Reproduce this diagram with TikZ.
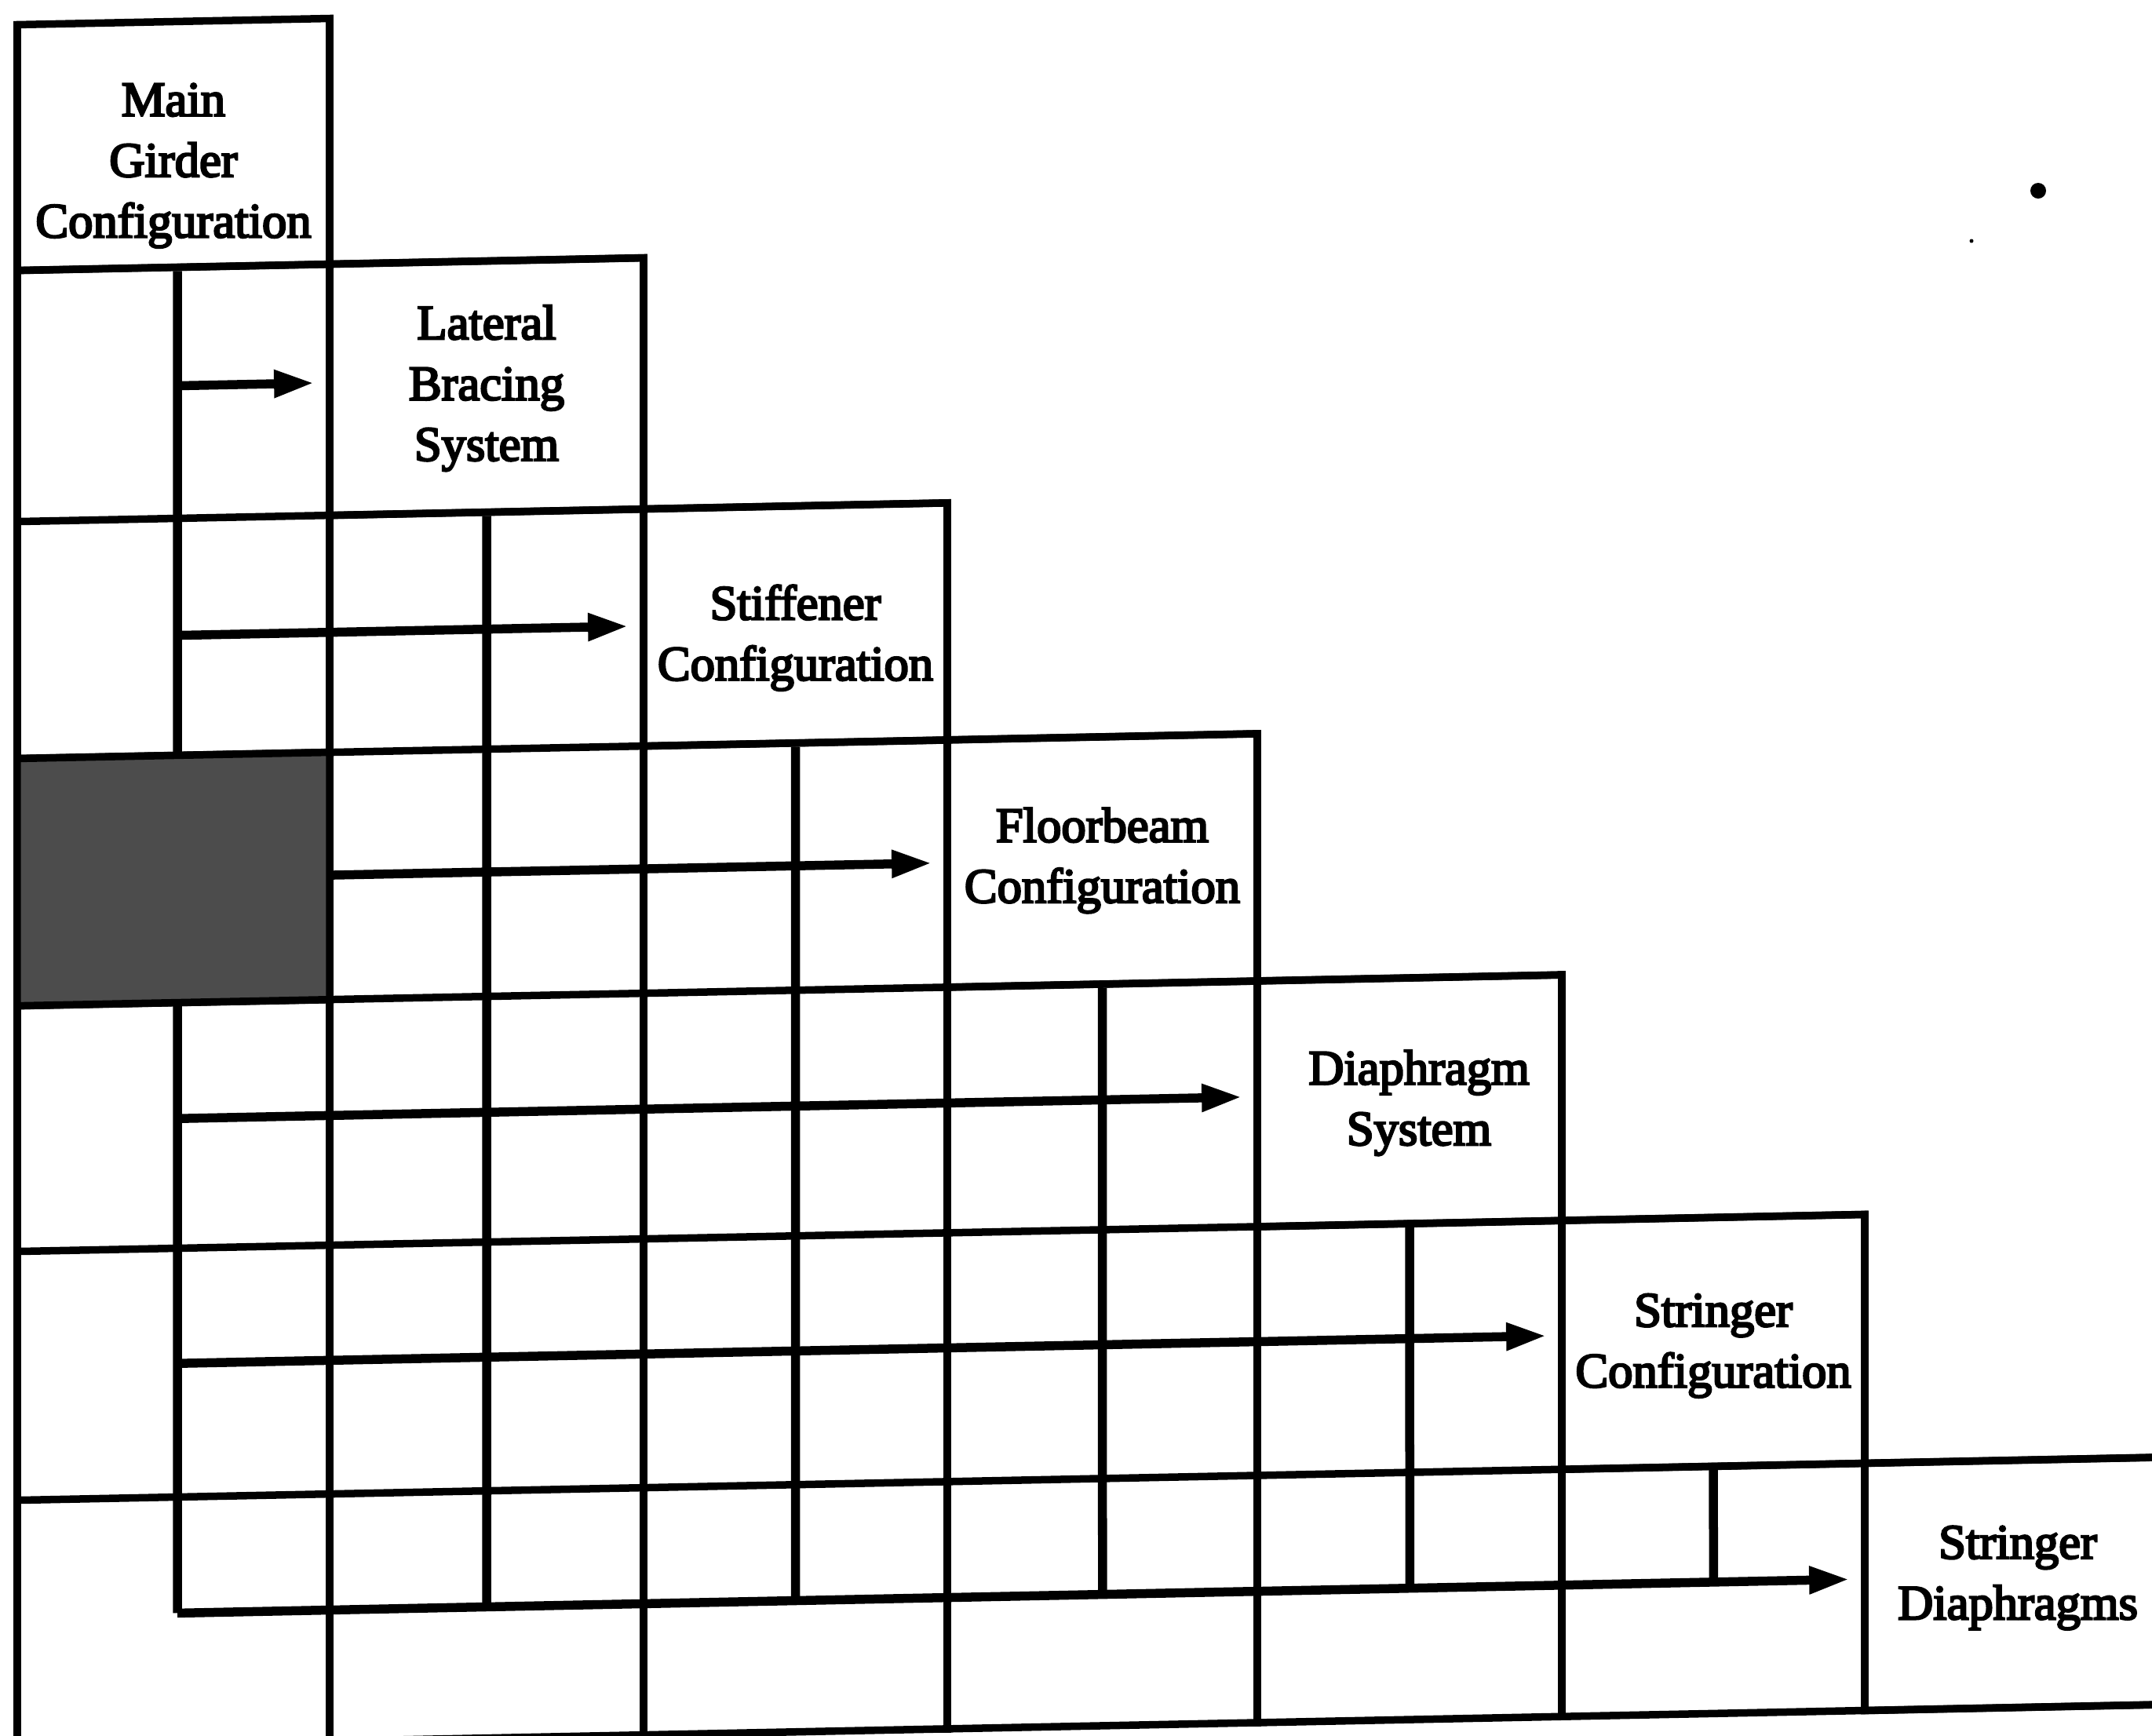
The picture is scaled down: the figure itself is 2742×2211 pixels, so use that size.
\documentclass[tikz,border=0pt]{standalone}
\usepackage{fontspec}
\newfontfamily\lblfont{Liberation Serif}[FakeBold=4]
\usetikzlibrary{arrows.meta}
\begin{document}
\begin{tikzpicture}[x=0.01cm, y=-0.01cm,
  grid/.style={line width=0.095cm, line cap=rect},
  trunk/.style={line width=0.115cm},
  flow/.style={line width=0.115cm, -{Triangle[length=0.51cm, width=0.33cm]}, shorten >=0.15cm},
  box/.style={draw, line width=0.095cm, rectangle, inner sep=0pt, transform shape},
  shadecell/.style={box, fill=black!70},
  lbl/.style={align=center, inner sep=0pt, font=\lblfont\fontsize{17.8}{22}\selectfont}]
\useasboundingbox (0,0) rectangle (2742,2211);
\clip (0,0) rectangle (2742,2211);
\begin{scope}[yslant=0.02]
  % grid lines
  \draw[grid] (22,345) -- (820,345);
  \draw[grid] (22,665) -- (1207,665);
  \draw[grid] (22,967) -- (1602,967);
  \draw[grid] (22,1282) -- (1990,1282);
  \draw[grid] (22,1595) -- (2376,1595);
  \draw[grid] (22,1912) -- (2766,1912);
  \draw[grid] (22,2227) -- (2766,2227);
  \draw[grid] (22,32) -- (22,2227);
  \draw[grid] (420,32) -- (420,2227);
  \draw[grid] (820,345) -- (820,2227);
  \draw[grid] (1207,665) -- (1207,2227);
  \draw[grid] (1602,967) -- (1602,2227);
  \draw[grid] (1990,1282) -- (1990,2227);
  \draw[grid] (2376,1595) -- (2376,2227);
  % boxes
  \node[box, minimum width=3.98cm, minimum height=3.13cm] (b0) at (221,188.5) {};
  \node[box, minimum width=4.00cm, minimum height=3.20cm] (b1) at (620,505) {};
  \node[box, minimum width=3.87cm, minimum height=3.02cm] (b2) at (1013.5,816) {};
  \node[box, minimum width=3.95cm, minimum height=3.15cm] (b3) at (1404.5,1124.5) {};
  \node[box, minimum width=3.88cm, minimum height=3.13cm] (b4) at (1796,1438.5) {};
  \node[box, minimum width=3.86cm, minimum height=3.17cm] (b5) at (2183,1753.5) {};
  \node[box, minimum width=3.90cm, minimum height=3.15cm] (b6) at (2571,2069.5) {};
  % arrow levels (slightly above the box centres)
  \coordinate (w1) at ([yshift=0.09cm]b1.west); \coordinate (x1) at ([yshift=0.09cm]b1.east);
  \coordinate (w2) at ([yshift=0.02cm]b2.west); \coordinate (x2) at ([yshift=0.02cm]b2.east);
  \coordinate (w3) at ([yshift=0.01cm]b3.west);
  \coordinate (w4) at ([yshift=0.09cm]b4.west); \coordinate (x4) at ([yshift=0.09cm]b4.east);
  \coordinate (w5) at ([yshift=0.12cm]b5.west); \coordinate (x5) at ([yshift=0.12cm]b5.east);
  \coordinate (w6) at ([yshift=0.10cm]b6.west); \coordinate (x6) at ([yshift=0.10cm]b6.east);
  \coordinate (top0) at ([xshift=0.05cm]b0.south);
  \coordinate (bot0) at ([xshift=0.05cm]b0.north);
  % trunk points
  \coordinate (s1) at (intersection of top0--bot0 and w1--x1);
  \coordinate (s2) at (intersection of top0--bot0 and w2--x2);
  \coordinate (s4) at (intersection of top0--bot0 and w4--x4);
  \coordinate (s5) at (intersection of top0--bot0 and w5--x5);
  \coordinate (s6) at (intersection of top0--bot0 and w6--x6);
  \coordinate (e1) at (intersection of b1.north--b1.south and w6--x6);
  \coordinate (e2) at (intersection of b2.north--b2.south and w6--x6);
  \coordinate (e3) at (intersection of b3.north--b3.south and w6--x6);
  \coordinate (e4) at (intersection of b4.north--b4.south and w6--x6);
  \coordinate (e5) at (intersection of b5.north--b5.south and w6--x6);
  \draw[trunk] (top0) -- (s6);
  \draw[trunk] (b1.south) -- (e1);
  \draw[trunk] (b2.south) -- (e2);
  \draw[trunk] (b3.south) -- (e3);
  \draw[trunk] (b4.south) -- (e4);
  \draw[trunk] (b5.south) -- (e5);
  % shaded cell
  \node[shadecell, minimum width=3.98cm, minimum height=3.15cm] (sh) at (221,1124.5) {};
  \coordinate (sh3) at ([yshift=0.01cm]sh.east);
  % arrows
  \draw[flow] (s1) -- (w1);
  \draw[flow] (s2) -- (w2);
  \draw[flow] (sh3) -- (w3);
  \draw[flow] (s4) -- (w4);
  \draw[flow] (s5) -- (w5);
  \draw[flow] (s6) -- (w6);
  % labels
  \node[lbl] (t0) at ([yshift=-0.27cm]b0.center) {Main\\Girder\\Configuration};
  \node[lbl] (t1) at ([yshift=-0.02cm]b1.center) {Lateral\\Bracing\\System};
  \node[lbl] (t2) at ([yshift=-0.17cm]b2.center) {Stiffener\\Configuration};
  \node[lbl] (t3) at (b3.center) {Floorbeam\\Configuration};
  \node[lbl] (t4) at ([xshift=0.12cm,yshift=-0.03cm]b4.center) {Diaphragm\\System};
  \node[lbl] (t5) at ([yshift=-0.05cm]b5.center) {Stringer\\Configuration};
  \node[lbl] (t6) at ([yshift=0.075cm]b6.center) {Stringer\\Diaphragms};
\end{scope}
\fill (2597,243) circle[radius=0.1cm];
\fill (2512,307) circle[radius=0.025cm];
\end{tikzpicture}
\end{document}
